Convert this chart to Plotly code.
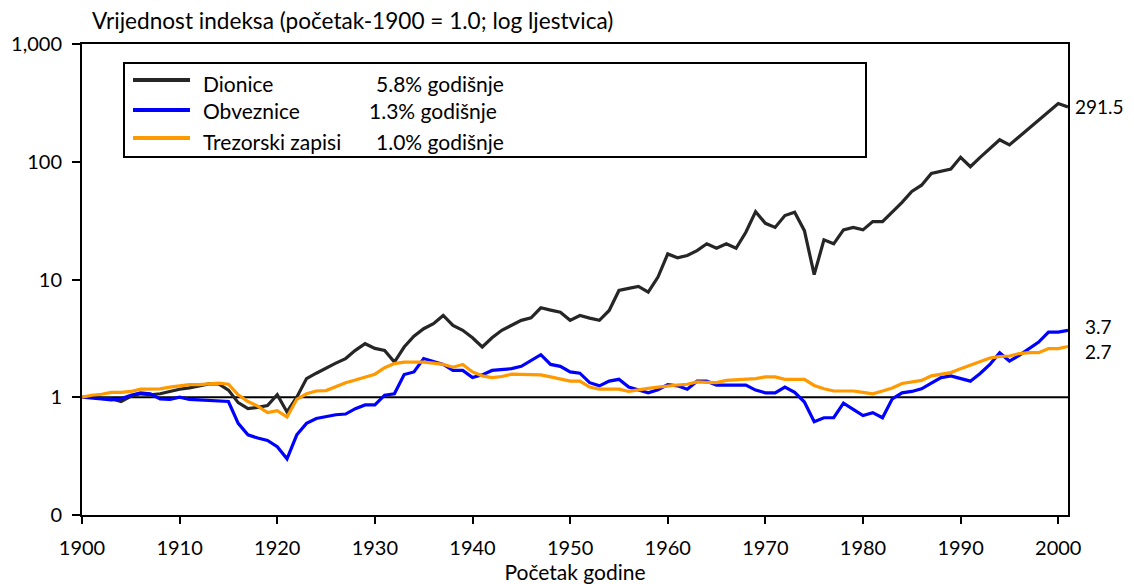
import math
import plotly.graph_objects as go

years = list(range(1900, 2002))

dionice = [1.0, 1.0, 0.98, 0.97, 0.92, 1.02, 1.07, 1.05, 1.07, 1.12,
           1.17, 1.2, 1.25, 1.3, 1.3, 1.15, 0.9, 0.8, 0.82, 0.85,
           1.05, 0.75, 1.0, 1.44, 1.6, 1.78, 1.95, 2.13, 2.5, 2.85,
           2.6, 2.5, 1.99, 2.67, 3.3, 3.82, 4.21, 4.95, 4.07, 3.7,
           3.2, 2.67, 3.2, 3.7, 4.1, 4.5, 4.73, 5.75, 5.5, 5.28,
           4.5, 4.95, 4.7, 4.5, 5.46, 8.07, 8.4, 8.73, 7.8, 10.5,
           16.5, 15.3, 16.0, 17.6, 20.1, 18.4, 20.1, 18.4, 25.2, 37.7,
           30.0, 27.7, 34.9, 37.2, 26.0, 11.0, 21.7, 20.1, 26.4, 27.7,
           26.4, 31.0, 31.0, 37.2, 45.2, 56.0, 63.2, 79.6, 83.0, 86.7,
           109.0, 90.7, 109.0, 130.0, 153.6, 139.0, 164.0, 192.0, 225.0, 265.0,
           312.0, 291.5]

obveznice = [1.0, 0.99, 0.97, 0.95, 0.97, 1.04, 1.09, 1.07, 0.97, 0.96,
             1.0, 0.96, 0.95, 0.93, 0.92, 0.92, 0.6, 0.48, 0.45, 0.43,
             0.38, 0.3, 0.48, 0.6, 0.66, 0.69, 0.71, 0.72, 0.8, 0.86,
             0.86, 1.04, 1.07, 1.56, 1.64, 2.13, 2.0, 1.9, 1.69, 1.69,
             1.47, 1.55, 1.69, 1.72, 1.75, 1.83, 2.05, 2.3, 1.9, 1.83,
             1.64, 1.6, 1.33, 1.25, 1.37, 1.42, 1.22, 1.15, 1.09, 1.16,
             1.28, 1.25, 1.17, 1.37, 1.37, 1.27, 1.27, 1.27, 1.27, 1.15,
             1.09, 1.09, 1.22, 1.1, 0.91, 0.62, 0.67, 0.67, 0.89, 0.79,
             0.7, 0.74, 0.67, 0.97, 1.09, 1.12, 1.18, 1.32, 1.47, 1.52,
             1.44, 1.37, 1.59, 1.9, 2.39, 2.03, 2.27, 2.59, 2.94, 3.57,
             3.57, 3.7]

trezorski = [1.0, 1.04, 1.06, 1.1, 1.1, 1.12, 1.17, 1.17, 1.18, 1.22,
             1.25, 1.28, 1.28, 1.29, 1.32, 1.29, 1.05, 0.92, 0.84, 0.74,
             0.77, 0.68, 0.96, 1.07, 1.13, 1.14, 1.24, 1.33, 1.4, 1.49,
             1.57, 1.78, 1.93, 1.99, 1.99, 1.99, 1.95, 1.9, 1.8, 1.9,
             1.64, 1.52, 1.47, 1.5, 1.57, 1.57, 1.57, 1.55, 1.49, 1.43,
             1.37, 1.37, 1.22, 1.17, 1.17, 1.17, 1.12, 1.16, 1.19, 1.22,
             1.25, 1.27, 1.29, 1.35, 1.34, 1.33, 1.39, 1.4, 1.42, 1.44,
             1.49, 1.49, 1.42, 1.42, 1.42, 1.26, 1.18, 1.13, 1.13, 1.13,
             1.1, 1.07, 1.13, 1.2, 1.31, 1.35, 1.39, 1.52, 1.57, 1.62,
             1.75, 1.87, 2.0, 2.15, 2.22, 2.24, 2.35, 2.39, 2.39, 2.59,
             2.59, 2.7]

series_names = ["Dionice", "Obveznice", "Trezorski zapisi"]
series_rates = ["5.8% godišnje", "1.3% godišnje", "1.0% godišnje"]
end_labels = ["291.5", "3.7", "2.7"]
colors = ["#262626", "#0000ff", "#ff9900"]

y_tickvals = [0.1, 1, 10, 100, 1000]
y_ticktext = ["0", "1", "10", "100", "1,000"]
x_tickvals = list(range(1900, 2001, 10))

FONT = "Lato"

# screen-pixel helpers (plot area spans x 82..1068, y 44..515 on the page)
PL, PR, PT, PB = 82, 1068, 44, 515
def px(x):
    return (x - PL) / (PR - PL)
def py(y):
    return (PB - y) / (PB - PT)

fig = go.Figure()

# reference line at 1
fig.add_trace(go.Scatter(x=[1900, 2001], y=[1, 1], mode="lines",
                         line=dict(color="black", width=2),
                         showlegend=False, hoverinfo="skip"))

data = [dionice, obveznice, trezorski]
for name, vals, col in zip(series_names, data, colors):
    fig.add_trace(go.Scatter(x=years, y=vals, mode="lines", name=name,
                             line=dict(color=col, width=3.2), showlegend=False))

# end labels
label_xshift = [5, 15, 15]
label_yshift = [1, 4, -5]
for vals, lab, xs, ys in zip(data, end_labels, label_xshift, label_yshift):
    fig.add_annotation(x=years[-1], y=math.log10(vals[-1]),
                       text=lab, showarrow=False, xanchor="left",
                       xshift=xs, yshift=ys,
                       font=dict(family=FONT, size=19, color="black"))

# custom legend box
fig.add_shape(type="rect", xref="paper", yref="paper",
              x0=px(124), x1=px(866), y0=py(157), y1=py(63),
              line=dict(color="black", width=2), fillcolor="white", layer="above")
line_y = [80, 110, 138]
text_y = [83, 111, 142]
rate_x = [374, 367, 374]
for col, ly, ty, name, rate, rx in zip(colors, line_y, text_y, series_names, series_rates, rate_x):
    fig.add_shape(type="line", xref="paper", yref="paper",
                  x0=px(133), x1=px(190), y0=py(ly), y1=py(ly),
                  line=dict(color=col, width=4), layer="above")
    fig.add_annotation(xref="paper", yref="paper", x=px(201), y=py(ty),
                       text=name, showarrow=False, xanchor="left", yanchor="middle",
                       font=dict(family=FONT, size=21, color="black"))
    fig.add_annotation(xref="paper", yref="paper", x=px(rx), y=py(ty),
                       text=rate, showarrow=False, xanchor="left", yanchor="middle",
                       font=dict(family=FONT, size=21, color="black"))

# title
fig.add_annotation(xref="paper", yref="paper", x=px(90), y=py(20),
                   text="Vrijednost indeksa (početak-1900 = 1.0; log ljestvica)",
                   showarrow=False, xanchor="left", yanchor="middle",
                   font=dict(family=FONT, size=22.6, color="black"))

# page has an 8px body margin, so the figure is sized/offset to compensate
fig.update_layout(
    width=1126, height=576,
    margin=dict(l=PL - 8, r=1134 - PR, t=PT - 8, b=584 - PB),
    paper_bgcolor="white", plot_bgcolor="white",
    font=dict(family=FONT, size=20, color="black"),
    showlegend=False,
)
fig.update_xaxes(range=[1900, 2001], tickvals=x_tickvals, ticks="outside",
                 ticklen=7, tickwidth=1.5, tickcolor="black",
                 showline=True, linecolor="black", linewidth=2, mirror=True,
                 showgrid=False, zeroline=False, ticklabelstandoff=7,
                 automargin=False,
                 tickfont=dict(family=FONT, size=20),
                 title=dict(text="Početak godine", standoff=9,
                            font=dict(family=FONT, size=21)))
fig.update_yaxes(type="log", range=[-1, 3], tickvals=y_tickvals, ticktext=y_ticktext,
                 ticks="outside", ticklen=8, tickwidth=1.5, tickcolor="black",
                 showline=True, linecolor="black", linewidth=2, mirror=True,
                 showgrid=False, zeroline=False, ticklabelstandoff=6,
                 automargin=False,
                 tickfont=dict(family=FONT, size=20))

fig.write_html("out.html")
